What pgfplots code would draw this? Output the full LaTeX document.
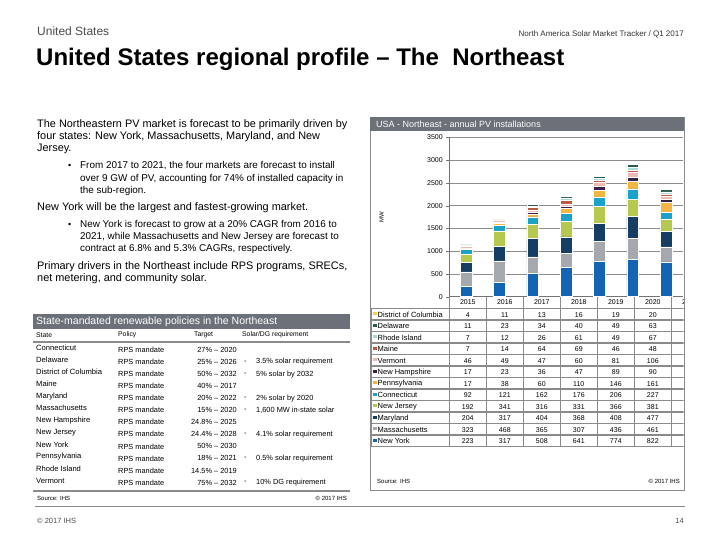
\documentclass[border=0pt]{standalone}
\usepackage{pgfplots}
\pgfplotsset{compat=1.18}
\usepackage{pgfplotstable}
\usepackage{fontspec}
\setmainfont{Liberation Sans}
\newcommand\fs[1]{\fontsize{#1}{#1}\selectfont}
\definecolor{cNY}{HTML}{1464B4}
\definecolor{cMA}{HTML}{A5A9AE}
\definecolor{cMD}{HTML}{163D63}
\definecolor{cNJ}{HTML}{B6C94E}
\definecolor{cCT}{HTML}{1AA2C8}
\definecolor{cPA}{HTML}{F3B640}
\definecolor{cNH}{HTML}{3B2141}
\definecolor{cVT}{HTML}{EBBAB4}
\definecolor{cME}{HTML}{B75A3F}
\definecolor{cRI}{HTML}{A9DADA}
\definecolor{cDE}{HTML}{2C5C4C}
\definecolor{cDC}{HTML}{F4D34B}
\definecolor{hdr}{HTML}{6B7079}
\definecolor{gridc}{HTML}{8A8A8A}

\pgfplotstableread{
x year NY MA MD NJ CT PA NH VT ME RI DE DC
0 2015 223 323 204 192 92 17 17 46 7 7 11 4
1 2016 317 468 317 341 121 38 23 49 14 12 23 11
2 2017 508 365 404 316 162 60 36 47 64 26 34 13
3 2018 641 307 368 331 176 110 47 60 69 61 40 16
4 2019 774 436 408 366 206 146 89 81 46 49 49 19
5 2020 822 461 477 381 227 161 90 106 48 67 63 20
6 2021 766 329 332 273 153 211 81 51 44 59 59 22
}\pvdata

\begin{document}
\begin{tikzpicture}
\path[use as bounding box, fill=white] (0,0) rectangle (720pt,540pt);

\begin{axis}[at={(449.3pt,243.3pt)}, anchor=south west, scale only axis,
  width=233.4pt, height=159.4pt,
  xmin=-0.5, xmax=6.5, ymin=0, ymax=3500,
  ybar stacked, bar width=11.7pt,
  xtick=\empty, ytick={0,500,...,3500},
  ymajorgrids, grid style={draw=black!45, line width=0.6pt},
  axis x line*=bottom, axis y line*=left,
  axis line style={draw=black!55, line width=0.7pt},
  tick align=outside, major tick length=3pt, tick style={draw=black!55},
  yticklabel style={font=\fs{7}},
  /pgf/number format/assume math mode=true, /pgf/number format/1000 sep={},
  ylabel={MW}, ylabel style={font=\fs{6}, at={(axis description cs:-0.29,0.5)}, anchor=center},
  every axis plot/.append style={draw=white, line width=0.5pt},
]
\addplot[fill=cNY] table[x=x,y=NY]{\pvdata};
\addplot[fill=cMA] table[x=x,y=MA]{\pvdata};
\addplot[fill=cMD] table[x=x,y=MD]{\pvdata};
\addplot[fill=cNJ] table[x=x,y=NJ]{\pvdata};
\addplot[fill=cCT] table[x=x,y=CT]{\pvdata};
\addplot[fill=cPA] table[x=x,y=PA]{\pvdata};
\addplot[fill=cNH] table[x=x,y=NH]{\pvdata};
\addplot[fill=cVT] table[x=x,y=VT]{\pvdata};
\addplot[fill=cME] table[x=x,y=ME]{\pvdata};
\addplot[fill=cRI] table[x=x,y=RI]{\pvdata};
\addplot[fill=cDE] table[x=x,y=DE]{\pvdata};
\addplot[fill=cDC] table[x=x,y=DC]{\pvdata};
\end{axis}

\begin{scope}[x=1pt, y=-1pt, yshift=540pt, every node/.style={inner sep=0pt}]
% header
\node[anchor=west, text=black!70] at (37,31) {\fs{12}United States};
\node[anchor=east, text=black!80] at (684,34) {\fs{8}North America Solar Market Tracker / Q1 2017};
\node[anchor=west] at (36,59) {\fs{24}\bfseries United States regional profile – The\ \ Northeast};

% paragraph
\node[anchor=west] at (37,125) {\fs{10.9}The Northeastern PV market is forecast to be primarily driven by};
\node[anchor=west] at (37,137) {\fs{10.9}four states: New York, Massachusetts, Maryland, and New};
\node[anchor=west] at (37,149) {\fs{10.9}Jersey.};
\node[anchor=west] at (68,166) {\fs{9}•};
\node[anchor=west] at (80,166) {\fs{9.9}From 2017 to 2021, the four markets are forecast to install};
\node[anchor=west] at (80,178.5) {\fs{9.9}over 9 GW of PV, accounting for 74\% of installed capacity in};
\node[anchor=west] at (80,191) {\fs{9.9}the sub-region.};
\node[anchor=west] at (37,208) {\fs{10.9}New York will be the largest and fastest-growing market.};
\node[anchor=west] at (68,225) {\fs{9}•};
\node[anchor=west] at (80,225) {\fs{9.9}New York is forecast to grow at a 20\% CAGR from 2016 to};
\node[anchor=west] at (80,237) {\fs{9.9}2021, while Massachusetts and New Jersey are forecast to};
\node[anchor=west] at (80,249.3) {\fs{9.9}contract at 6.8\% and 5.3\% CAGRs, respectively.};
\node[anchor=west] at (37,266.5) {\fs{10.9}Primary drivers in the Northeast include RPS programs, SRECs,};
\node[anchor=west] at (37,278.5) {\fs{10.9}net metering, and community solar.};

% policy table
\fill[hdr] (33,314) rectangle (350,329);
\node[anchor=west, text=white] at (36,321.7) {\fs{10.5}State-mandated renewable policies in the Northeast};
\node[anchor=west] at (36,335) {\fs{6.8}State};
\node[anchor=west] at (118,335) {\fs{6.8}Policy};
\node[anchor=west] at (194,335) {\fs{6.8}Target};
\node[anchor=west] at (242,335) {\fs{6.8}Solar/DG requirement};
\draw[gridc, line width=1.4pt] (33,342) -- (350,342);
\foreach \st/\tg/\rq [count=\i from 0] in {
  Connecticut/27\% – 2020/,
  Delaware/25\% – 2026/3.5\% solar requirement,
  District of Columbia/50\% – 2032/5\% solar by 2032,
  Maine/40\% – 2017/,
  Maryland/20\% – 2022/2\% solar by 2020,
  Massachusetts/15\% – 2020/{1,600 MW in-state solar},
  New Hampshire/24.8\% – 2025/,
  New Jersey/24.4\% – 2028/4.1\% solar requirement,
  New York/50\% – 2030/,
  Pennsylvania/18\% – 2021/0.5\% solar requirement,
  Rhode Island/14.5\% – 2019/,
  Vermont/75\% – 2032/10\% DG requirement}{
  \pgfmathsetmacro\yy{348+12.05*\i}
  \node[anchor=west] at (36,\yy) {\fs{7.6}\st};
  \node[anchor=west] at (118,\yy+2) {\fs{7.4}RPS mandate};
  \node[anchor=east] at (237,\yy+2) {\fs{7.4}\tg};
  \ifx\rq\empty\else
    \node[anchor=west] at (244,\yy+2) {\fs{7.4}-};
    \node[anchor=west] at (256,\yy+2) {\fs{7.4}\rq};
  \fi
}
\draw[gridc, line width=1.4pt] (33,491) -- (350,491);
\node[anchor=west] at (37,498.5) {\fs{6}Source: IHS};
\node[anchor=east] at (347,498.5) {\fs{6}© 2017 IHS};

% chart panel
\draw[gridc, line width=0.8pt] (370,117) rectangle (684,490);
\fill[hdr] (370,117) rectangle (684,131);
\node[anchor=west, text=white] at (376,124) {\fs{9}USA - Northeast - annual PV installations};

% data table
\begin{scope}
\clip (370,296) rectangle (683.6,448);
\foreach \r in {0,...,6}{
  \pgfplotstablegetelem{\r}{year}\of\pvdata
  \node at ({467.8+37*\r},302.5) {\fs{7}\pgfplotsretval};
}
\foreach \col/\name [count=\k from 0] in {DC/District of Columbia, DE/Delaware, RI/Rhode Island, ME/Maine, VT/Vermont, NH/New Hampshire, PA/Pennsylvania, CT/Connecticut, NJ/New Jersey, MD/Maryland, MA/Massachusetts, NY/New York}{
  \pgfmathsetmacro\yy{314.7+11.5*\k}
  \fill[c\col] (372.5,\yy-2.6) rectangle (376.5,\yy+0.8);
  \node[anchor=west] at (377.5,\yy) {\fs{7.5}\name};
  \foreach \r in {0,...,6}{
    \pgfplotstablegetelem{\r}{\col}\of\pvdata
    \node at ({467.8+37*\r},\yy) {\fs{7}\pgfplotsretval};
  }
}
\foreach \xx in {449.3,486.3,523.3,560.3,597.3,634.3,671.3}
  \draw[gridc, line width=1.1pt] (\xx,297) -- (\xx,446.5);
\draw[gridc, line width=1.1pt] (371,308.5) -- (371,446.5);
\foreach \k in {0,...,12}
  \draw[gridc, line width=1.1pt] (371,{308.5+11.5*\k}) -- (684,{308.5+11.5*\k});
\end{scope}
\node[anchor=west] at (377,481) {\fs{6}Source: IHS};
\node[anchor=east] at (680,481) {\fs{6}© 2017 IHS};

% footer
\draw[gridc, line width=0.8pt] (35,506) -- (685,506);
\node[anchor=west, text=black!70] at (37,521) {\fs{7.5}© 2017 IHS};
\node[anchor=east, text=black!70] at (684,521) {\fs{7.5}14};
\end{scope}
\end{tikzpicture}
\end{document}
